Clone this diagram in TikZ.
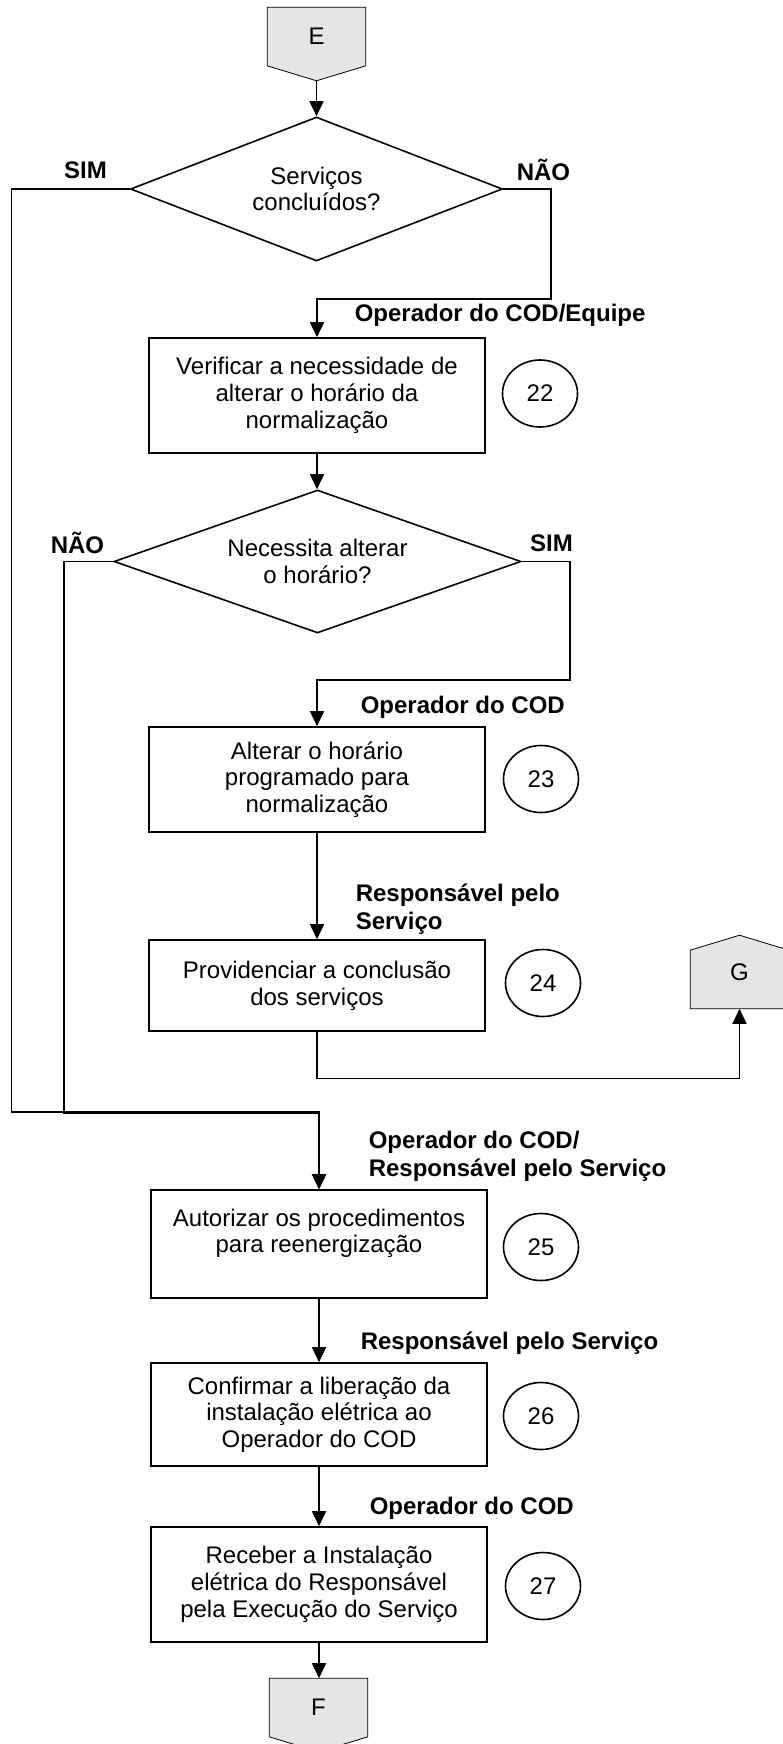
\documentclass[tikz,border=0pt]{standalone}
\usepackage{fontspec}
\setmainfont{Liberation Sans}
\usepackage{tikz}
\usetikzlibrary{arrows.meta, shapes.geometric, backgrounds, calc}

\begin{document}
\begin{tikzpicture}[x=0.5pt, y=-0.5pt, font=\fontsize{12}{13.35}\selectfont, line width=0.8pt, >={Triangle[length=7.5pt,width=7pt]}]
\tikzstyle{process}=[rectangle, draw, minimum width=168pt, inner sep=0pt, align=center]
\tikzstyle{decision}=[diamond, draw, inner sep=0pt, aspect=2.8, align=center]
\tikzstyle{stepnum}=[ellipse, draw, minimum width=37.5pt, minimum height=33.5pt, inner sep=0pt]
\tikzstyle{offpage}=[rectangle, minimum width=48.5pt, inner sep=0pt]
\tikzstyle{role}=[font=\fontsize{12}{14}\selectfont\bfseries, anchor=west, align=left, inner sep=0pt]
\tikzstyle{answer}=[font=\fontsize{12}{14}\selectfont\bfseries, inner sep=0pt]
\tikzstyle{conn}=[draw, fill=gray!20]

\useasboundingbox (0,0) rectangle (782,1744);

\node[offpage, minimum height=28.5pt] (E) at (316.5,36.5) {E};
\coordinate (Etip) at ($(E.south)+(0,15)$);
\node[decision, minimum width=186pt, minimum height=72pt] (d1) at (316.5,189) {Serviços\\concluídos?};
\node[process, minimum height=57.5pt] (s22) at (317,395.5) {Verificar a necessidade de\\alterar o horário da\\normalização};
\node[decision, minimum width=203.5pt, minimum height=71.5pt] (d2) at (317.5,561.5) {Necessita alterar\\o horário?};
\node[process, minimum height=52.5pt] (s23) at (317,779.5) {Alterar o horário\\programado para\\normalização};
\node[process, minimum height=45.5pt] (s24) at (317,985.5) {Providenciar a conclusão\\dos serviços};
\node[process, minimum height=54pt] (s25) at (319,1244) {Autorizar os procedimentos\\para reenergização\\\mbox{}};
\node[process, minimum height=51.5pt] (s26) at (319,1414.5) {Confirmar a liberação da\\instalação elétrica ao\\Operador do COD};
\node[process, minimum height=57.5pt] (s27) at (319,1584.5) {Receber a Instalação\\elétrica do Responsável\\pela Execução do Serviço};
\node[offpage, minimum height=28.5pt] (F) at (318.5,1707.5) {F};
\node[offpage, minimum height=36pt] (G) at (739.5,972) {G};

\foreach \n/\x/\y in {22/540/393.5, 23/541/779, 24/543/983, 25/541/1247, 26/541/1416, 27/543/1586}
   \node[stepnum] (n\n) at (\x,\y) {\n};

\begin{scope}[on background layer]
\draw[conn] (E.north west) -- (E.north east) -- (E.south east) -- (Etip) -- (E.south west) -- cycle;
\draw[conn] (F.north west) -- (F.north east) -- (F.south east) -- ($(F.south)+(0,15)$) -- (F.south west) -- cycle;
\draw[conn] (G.south west) -- ($(G.north west)+(0,15)$) -- (G.north) -- ($(G.north east)+(0,15)$) -- (G.south east) -- cycle;
\end{scope}

\node[answer] (sim1) at (85.5,170) {SIM};
\node[answer] (nao1) at (543.5,170) {NÃO};
\node[answer] (nao2) at (77.5,543) {NÃO};
\node[answer] (sim2) at (551.5,543) {SIM};
\node[role] (r22) at (354,315) {Operador do COD/Equipe};
\node[role] (r23) at (360,707) {Operador do COD};
\node[role] (r24) at (355,909) {Responsável pelo\\Serviço};
\node[role] (r25) at (368,1156) {Operador do COD/\\Responsável pelo Serviço};
\node[role] (r26) at (360,1343) {Responsável pelo Serviço};
\node[role] (r27) at (369,1508) {Operador do COD};

\draw[->] (Etip) -- (d1.north);
\draw[->] (d1.east) -| (551,299) -| (s22.north);
\draw[->] (d1.west) -| (11.5,1112) -| (s25.north);
\draw[->] (s22.south) -- (s22.south |- d2.north);
\draw[->] (d2.west) -| (64,1113.5) -| (s25.north);
\draw[->] (d2.east) -| (570,680) -| (s23.north);
\draw[->] (s23) -- (s24);
\draw[->] (s24.south) -- ++(0,46.5) -| (G.south);
\draw[->] (s25) -- (s26);
\draw[->] (s26) -- (s27);
\draw[->] (s27.south) -- (s27.south |- F.north);

\end{tikzpicture}
\end{document}
